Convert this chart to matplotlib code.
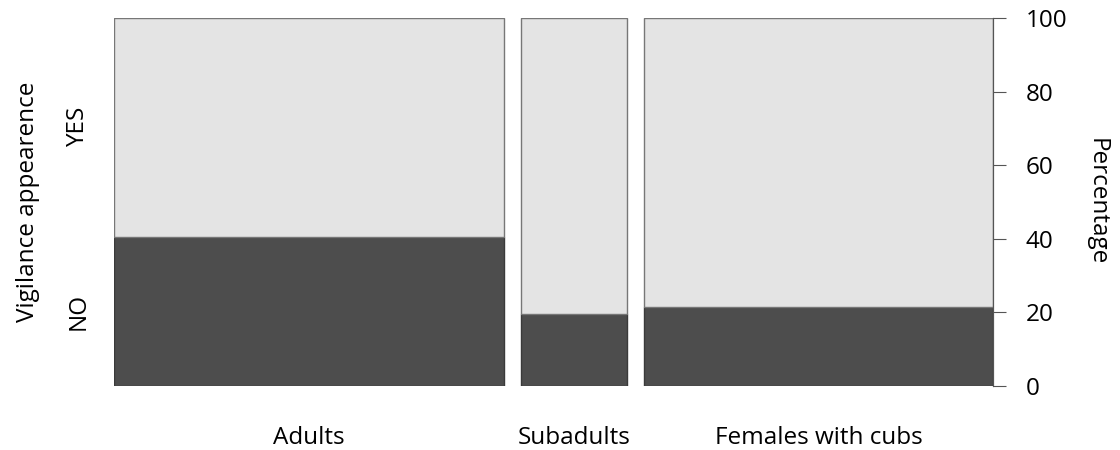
import matplotlib
matplotlib.use("Agg")
import matplotlib.pyplot as plt
import numpy as np

plt.rcParams['font.family'] = ['Open Sans', 'DejaVu Sans']

groups = ["Adults", "Subadults", "Females with cubs"]
group_share = [0.461, 0.126, 0.413]   # bar widths (share of observations)
no_share = [0.406, 0.196, 0.215]      # fraction "NO" within each group
levels = ["NO", "YES"]

light = "#e4e4e4"
dark = "#4d4d4d"
edge = "#3a3a3a"
off = 0.02
fs = 17.5

fig = plt.figure(figsize=(11.2, 4.5), dpi=100)
ax = fig.add_axes([114/1120, 1-386/450, (993-114)/1120, (386-18)/450])

widths = np.array(group_share)
lefts = np.concatenate([[0], np.cumsum(widths + off)[:-1]])
no = np.array(no_share)

ax.bar(lefts, no, width=widths, align='edge', color=dark, edgecolor=edge, linewidth=1)
ax.bar(lefts, 1 - no, width=widths, bottom=no, align='edge', color=light, edgecolor="#777777", linewidth=1)

ax.set_xlim(0, lefts[-1] + widths[-1])
ax.set_ylim(0, 1)

for s in ["top", "bottom", "left"]:
    ax.spines[s].set_visible(False)
ax.spines["right"].set_color("#555555")

# category labels
ax.set_xticks(lefts + widths / 2)
ax.set_xticklabels(groups, fontsize=fs)
ax.tick_params(axis='x', length=0, pad=29)

# left: levels at midpoints of first bar
ax.set_yticks([no[0] / 2, no[0] + (1 - no[0]) / 2])
ax.set_yticklabels(levels, rotation=90, va='center', fontsize=fs)
ax.tick_params(axis='y', length=0, pad=17)
ax.set_ylabel("Vigilance appearence", fontsize=fs, labelpad=19)

ax2 = ax.twinx()
ax2.set_ylim(0, 100)
ax2.set_yticks(np.arange(0, 101, 20))
ax2.tick_params(axis='y', labelsize=fs, length=9.5, color="#555555", pad=14)
for s in ["top", "bottom", "left"]:
    ax2.spines[s].set_visible(False)
ax2.spines["right"].set_color("#555555")
ax2.set_ylabel("Percentage", rotation=270, fontsize=fs, labelpad=30)

fig.savefig("out.png", dpi=100)
